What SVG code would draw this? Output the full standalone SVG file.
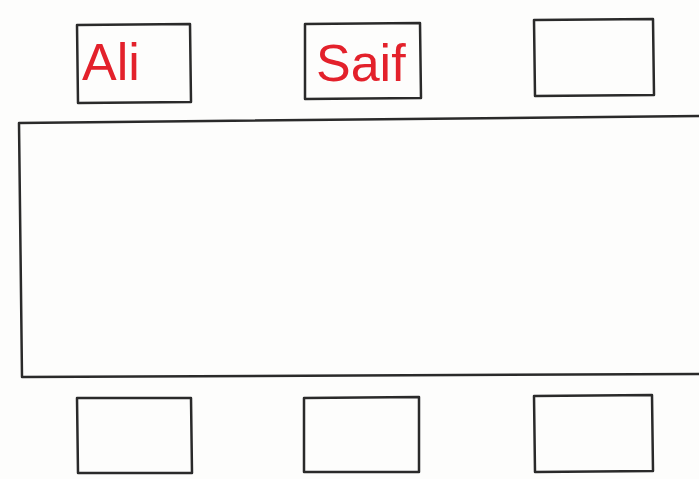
<svg xmlns="http://www.w3.org/2000/svg" width="699" height="479" viewBox="0 0 699 479">
<style>
.box{fill:none;stroke:#2a2a2a;stroke-width:2.5;stroke-linejoin:round}
.lbl{font-family:"Liberation Sans",Arial,sans-serif;font-size:52px;fill:#e3212b}
</style>
<rect width="699" height="479" fill="#fdfdfc"/>
<g id="table">
<polyline class="box" points="701,116 19,123 22,377 701,374"/>
</g>
<g id="seat-ali">
<polygon class="box" points="77,25 190,24 191,102 78,103"/>
<text class="lbl" x="82" y="80">Ali</text>
</g>
<g id="seat-saif">
<polygon class="box" points="305,24 420,23 421,98 305,99"/>
<text class="lbl" x="316" y="81">Saif</text>
</g>
<g id="seat-top-right">
<polygon class="box" points="534,20 653,19 654,95 535,96"/>
</g>
<g id="seat-bottom-left">
<polygon class="box" points="77,398 191,398 192,473 78,473"/>
</g>
<g id="seat-bottom-middle">
<polygon class="box" points="304,398 419,397 419,472 304,472"/>
</g>
<g id="seat-bottom-right">
<polygon class="box" points="534,396 652,395 653,471 535,472"/>
</g>
<g id="connectors"></g>
</svg>
